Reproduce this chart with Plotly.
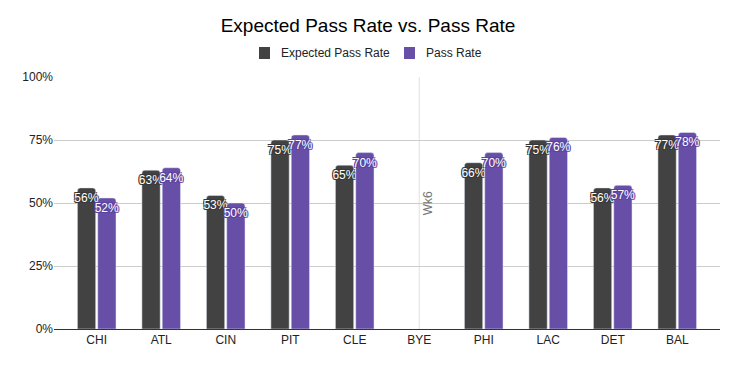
import plotly.graph_objects as go

teams = ["CHI", "ATL", "CIN", "PIT", "CLE", "BYE", "PHI", "LAC", "DET", "BAL"]
expected_pass_rate = [0.56, 0.63, 0.53, 0.75, 0.65, None, 0.66, 0.75, 0.56, 0.77]
pass_rate = [0.52, 0.64, 0.50, 0.77, 0.70, None, 0.70, 0.76, 0.57, 0.78]
series_names = ["Expected Pass Rate", "Pass Rate"]
series_colors = ["#424242", "#674ea7"]
y_ticks = [0, 0.25, 0.5, 0.75, 1.0]
bye_label = "Wk6"

W, H = 736, 365
ML, MR, MT, MB = 54, 16, 77, 36
PW, PH = W - ML - MR, H - MT - MB


def px_x(x):
    return (x - ML) / PW


def px_y(y):
    return (H - MB - y) / PH


def labels(vals):
    return ["" if v is None else f"{round(v*100)}%" for v in vals]


def outline(c):
    return (f"-1px -1px 0 {c}, 1px -1px 0 {c}, -1px 1px 0 {c}, 1px 1px 0 {c}, "
            f"0 0 1px {c}")


fig = go.Figure()
for name, vals, col, oc in [(series_names[0], expected_pass_rate, series_colors[0], "#383838"),
                            (series_names[1], pass_rate, series_colors[1], "#5a42a0")]:
    fig.add_trace(go.Bar(
        x=teams, y=vals, name=name, marker_color=col, text=labels(vals),
        textposition="inside", insidetextanchor="end", textangle=0,
        textfont=dict(color="white", size=12, family="Liberation Sans, Arial",
                      shadow=outline(oc)),
        cliponaxis=False, showlegend=False,
    ))

fig.add_shape(type="line", xref="x", yref="paper", x0="BYE", x1="BYE", y0=0, y1=1,
              line=dict(color="#e0e0e0", width=1), layer="below")
fig.add_annotation(x="BYE", y=0.5, xref="x", yref="y", text=bye_label, textangle=-90,
                   showarrow=False, xshift=9, font=dict(color="#757575", size=12))

# manual legend
legend_items = [(259, 279, series_names[0], series_colors[0]),
                (404, 424, series_names[1], series_colors[1])]
for sx, tx, name, col in legend_items:
    fig.add_shape(type="rect", xref="paper", yref="paper",
                  x0=px_x(sx), x1=px_x(sx + 11), y0=px_y(59), y1=px_y(47),
                  fillcolor=col, line=dict(width=0))
    fig.add_annotation(xref="paper", yref="paper", x=px_x(tx), y=px_y(53),
                       xanchor="left", yanchor="middle", showarrow=False, text=name,
                       font=dict(size=12, color="#222222"))

fig.update_layout(
    width=W, height=H,
    margin=dict(l=ML, r=MR, t=MT, b=MB, autoexpand=False),
    paper_bgcolor="white", plot_bgcolor="white",
    font=dict(family="Liberation Sans, Arial", size=12, color="#222222"),
    title=dict(text="Expected Pass Rate vs. Pass Rate", x=0.5, xanchor="center",
               y=1 - 25 / H, yanchor="middle", font=dict(size=19, color="#000000")),
    showlegend=False,
    barmode="group", bargap=0.37, bargroupgap=0.1, barcornerradius=3,
)
fig.update_traces(constraintext="none")
fig.update_xaxes(range=[-0.662, 9.663], showgrid=False, ticks="",
                 tickfont=dict(size=12, color="#222222"),
                 showline=True, linecolor="#333333", linewidth=1, automargin=False)
fig.update_yaxes(range=[0, 1], tickvals=y_ticks, tickformat=".0%",
                 gridcolor="#cccccc", zeroline=False, ticks="", automargin=False,
                 tickfont=dict(size=12, color="#222222"))

fig.write_html("out.html", config={"displayModeBar": False},
               post_script="document.body.style.margin='0';")
